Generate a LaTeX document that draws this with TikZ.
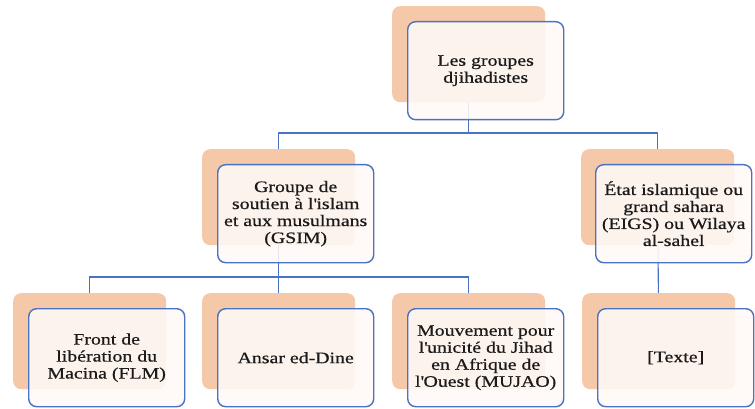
\documentclass[tikz,border=0pt]{standalone}
\usepackage{fontspec}
\setmainfont{Liberation Serif}[FakeStretch=1.24,FakeBold=0.6]
\definecolor{orangebg}{HTML}{F5C8A9}
\definecolor{boxblue}{HTML}{4A72C4}
\definecolor{boxfill}{HTML}{FFFAF7}
\definecolor{txt}{HTML}{1A1A1A}
\pgfdeclarelayer{background}
\pgfsetlayers{background,main}
\newcommand{\apos}{\textquotesingle}
\begin{document}
\begin{tikzpicture}[x=1pt,y=-1pt,
  obox/.style={fill=orangebg, rounded corners=8pt, minimum width=153pt, minimum height=96pt, anchor=north west, inner sep=0pt},
  wbox/.style={draw=boxblue, line width=1.4pt, fill=boxfill, fill opacity=0.88, text opacity=1, text=txt, rounded corners=8pt, minimum width=156pt, minimum height=98pt, anchor=north west, align=center, font=\fontsize{16}{17}\selectfont, inner sep=2pt},
  link/.style={draw=boxblue, line width=1.1pt}]
\useasboundingbox (0,0) rectangle (755,409);
% orange back boxes
\node[obox] (oTop) at (392,6) {};
\node[obox] (oGSIM) at (202,149) {};
\node[obox] (oEIGS) at (581,149) {};
\node[obox] (oFLM) at (13,293) {};
\node[obox] (oAnsar) at (202,293) {};
\node[obox] (oMUJAO) at (392,293) {};
\node[obox] (oTexte) at (582,293) {};
% connectors
\coordinate (bus1) at (0,133);
\coordinate (bus2) at (0,277);
\begin{pgfonlayer}{background}
\fill[white] (0,0) rectangle (755,409);
\draw[link] (oTop.center) -- (oTop.center |- bus1) -| (oGSIM.center);
\draw[link] (oTop.center |- bus1) -| (oEIGS.center);
\draw[link] (oGSIM.center) -- (oGSIM.center |- bus2) -| (oFLM.center);
\draw[link] (oGSIM.center |- bus2) -| (oAnsar.center);
\draw[link] (oGSIM.center |- bus2) -| (oMUJAO.center);
\draw[link] (oEIGS.center) -- (oTexte.center);
\end{pgfonlayer}
% white front boxes
\node[wbox] (wTop) at (407,21) {Les groupes\\djihadistes};
\node[wbox] (wGSIM) at (217,164) {Groupe de\\soutien à l\apos islam\\et aux musulmans\\(GSIM)};
\node[wbox] (wEIGS) at (595,164) {État islamique ou\\grand sahara\\(EIGS) ou Wilaya\\al-sahel};
\node[wbox] (wFLM) at (28,308) {Front de\\libération du\\Macina (FLM)};
\node[wbox] (wAnsar) at (217,308) {Ansar ed-Dine};
\node[wbox] (wMUJAO) at (407,308) {Mouvement pour\\l\apos unicité du Jihad\\en Afrique de\\l\apos Ouest (MUJAO)};
\node[wbox] (wTexte) at (597,308) {[Texte]};
\end{tikzpicture}
\end{document}
